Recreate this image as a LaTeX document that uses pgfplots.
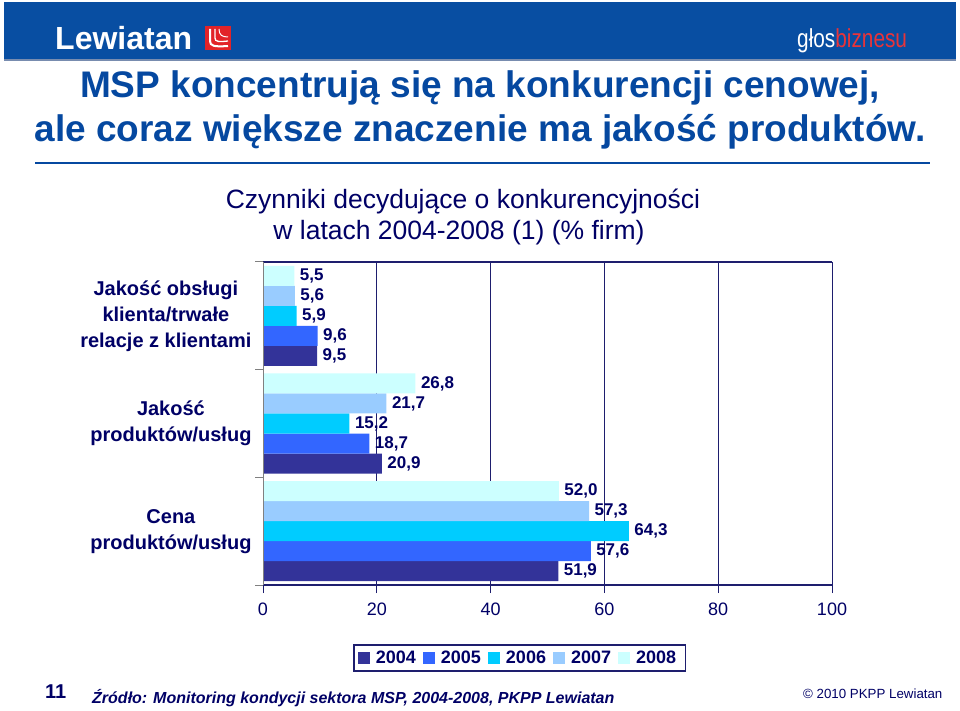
\documentclass[border=0pt]{standalone}
\usepackage{fontspec}
\setmainfont{Liberation Sans}
\usepackage{pgfplots}
\pgfplotsset{compat=1.18}
\definecolor{hdr}{RGB}{8,78,162}
\definecolor{ttl}{RGB}{5,72,160}
\definecolor{navy}{RGB}{0,0,102}
\definecolor{axnavy}{RGB}{30,30,110}
\definecolor{c2004}{HTML}{333399}
\definecolor{c2005}{HTML}{3366FF}
\definecolor{c2006}{HTML}{00CCFF}
\definecolor{c2007}{HTML}{99CCFF}
\definecolor{c2008}{HTML}{CCFFFF}
\definecolor{lred}{RGB}{226,35,40}
\definecolor{gred}{RGB}{232,52,58}
\newcommand\titlefont{\fontsize{37}{44}\selectfont\bfseries}
\newcommand\ctfont{\fontsize{26.5}{31}\selectfont}
\newcommand\catfont{\fontsize{20}{26}\selectfont\bfseries}
\newcommand\tickfont{\fontsize{18}{21}\selectfont}
\newcommand\valfont{\fontsize{17}{20}\selectfont\bfseries}
\newcommand\legfont{\fontsize{18}{21}\selectfont\bfseries}
\pgfplotsset{sqleg/.style={legend image code/.code={\fill[##1] (0pt,-6pt) rectangle (12pt,6pt);}}}
\begin{document}
\begin{tikzpicture}[x=1pt,y=1pt]
\path[use as bounding box, fill=white] (0,0) rectangle (960,711);
% header
\fill[hdr] (4,652) rectangle (956,709);
\draw[color={rgb,255:red,120;green,140;blue,175}, line width=1.5pt] (4,651) -- (956,651);
\node[anchor=base west, inner sep=0pt, text=white] at (55,661) {\fontsize{32}{36}\selectfont\bfseries Lewiatan};
\fill[lred] (205,661) rectangle (231,685);
\draw[white, line width=2pt] (210,682) -- (210,670) .. controls (210,665) and (214,664) .. (228,665);
\draw[white, line width=1.3pt] (215,682) -- (215,673) .. controls (215,669) and (219,669) .. (228,670);
\draw[white, line width=1pt] (219,682) .. controls (219,676) and (222,674) .. (228,674);
\node[anchor=base west, inner sep=0pt] at (797,663) {\scalebox{0.8}[1]{\fontsize{26}{28}\selectfont\textcolor{white}{głos}\textcolor{gred}{biznesu}}};
% title
\node[anchor=base, inner sep=0pt, text=ttl] at (480,613) {\titlefont MSP koncentrują się na konkurencji cenowej,};
\node[anchor=base, inner sep=0pt, text=ttl] at (480,569) {\titlefont ale coraz większe znaczenie ma jakość produktów.};
\draw[ttl, line width=2pt] (35,548) -- (930,548);
% chart title
\node[anchor=base, inner sep=0pt, text=navy] at (463,502) {\ctfont Czynniki decydujące o konkurencyjności};
\node[anchor=base, inner sep=0pt, text=navy] at (459,471) {\ctfont w latach 2004-2008 (1) (\% firm)};
\begin{axis}[
  at={(263pt,126pt)}, anchor=south west,
  width=569pt, height=323pt, scale only axis,
  xbar, bar width=0.186,
  xmin=0, xmax=100, ymin=-0.5, ymax=2.5, y dir=reverse,
  xtick={0,20,40,60,80,100},
  xtick pos=bottom, ytick pos=left, tick align=outside,
  major tick length=8pt,
  xmajorgrids, grid style={axnavy, line width=1pt},
  separate axis lines,
  x axis line style={axnavy, line width=1.2pt},
  y axis line style={draw=none},
  xtick style={axnavy, line width=1pt},
  ytick style={gray, line width=1pt},
  ytick={-0.5,0.5,1.5,2.5}, yticklabels={},
  extra y ticks={0,1,2},
  extra y tick labels={{Jakość obsługi\\klienta/trwałe\\relacje z klientami},{Jakość\\produktów/usług},{Cena\\produktów/usług}},
  extra y tick style={major tick length=0pt, yticklabel style={align=center, font=\catfont, text=navy, xshift=-8pt}},
  xticklabel style={font=\tickfont, text=navy, yshift=-6pt},
  /pgf/number format/assume math mode=true,
  nodes near coords={\pgfmathprintnumber[fixed,fixed zerofill,precision=1,use comma,assume math mode=true]{\pgfplotspointmeta}},
  nodes near coords style={font=\valfont, text=navy, anchor=west, xshift=2pt},
  legend columns=5,
  legend style={at={(0.4508,-0.226)}, anchor=center, draw=axnavy, line width=1.2pt, font=\legfont, text=navy,
    inner sep=4pt, /tikz/every odd column/.append style={column sep=4pt}},
]
\addplot[fill=c2004, draw=none, bar shift=0.372, sqleg] coordinates {(9.5,0) (20.9,1) (51.9,2)};
\addlegendentry{2004\rule{5pt}{0pt}}
\addplot[fill=c2005, draw=none, bar shift=0.186, sqleg] coordinates {(9.6,0) (18.7,1) (57.6,2)};
\addlegendentry{2005\rule{5pt}{0pt}}
\addplot[fill=c2006, draw=none, bar shift=0, sqleg] coordinates {(5.9,0) (15.2,1) (64.3,2)};
\addlegendentry{2006\rule{5pt}{0pt}}
\addplot[fill=c2007, draw=none, bar shift=-0.186, sqleg] coordinates {(5.6,0) (21.7,1) (57.3,2)};
\addlegendentry{2007\rule{5pt}{0pt}}
\addplot[fill=c2008, draw=none, bar shift=-0.372, sqleg] coordinates {(5.5,0) (26.8,1) (52.0,2)};
\addlegendentry{2008\rule{3pt}{0pt}}
\draw[gray, line width=1pt] (rel axis cs:0,0) -- (rel axis cs:0,1);
\end{axis}
% footer
\node[anchor=base west, inner sep=0pt, text=navy] at (45,12) {\fontsize{20}{24}\selectfont\bfseries 11};
\node[anchor=base west, inner sep=0pt, text=navy] at (92,7) {\fontsize{16}{19}\selectfont\bfseries\itshape Źródło: Monitoring kondycji sektora MSP, 2004-2008, PKPP Lewiatan};
\node[anchor=base west, inner sep=0pt, text=navy] at (803,12) {\fontsize{13.3}{16}\selectfont © 2010 PKPP Lewiatan};
\end{tikzpicture}
\end{document}
